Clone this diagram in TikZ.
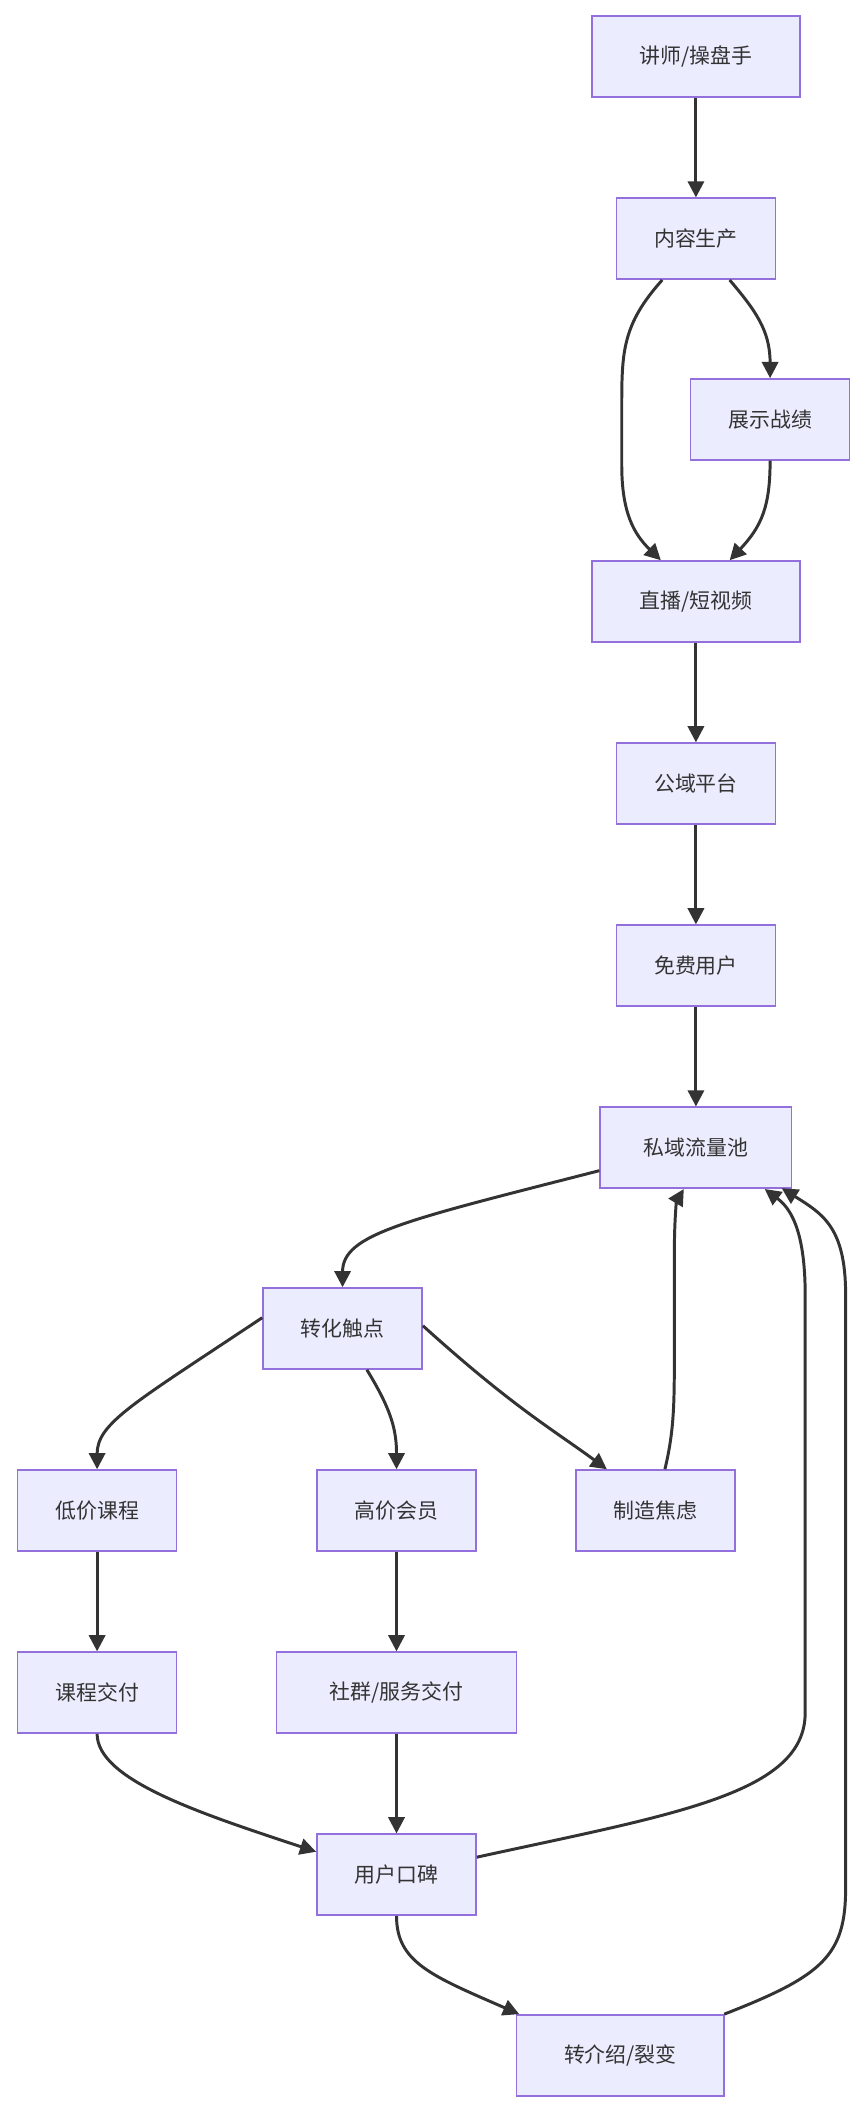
\documentclass[tikz,border=0pt]{standalone}
\usepackage{fontspec}
\setmainfont{Noto Sans CJK SC}
\usetikzlibrary{arrows.meta,calc}
\definecolor{nfill}{HTML}{ECECFF}
\definecolor{nline}{HTML}{9370DB}
\definecolor{eline}{HTML}{333333}
\begin{document}
\begin{tikzpicture}[x=1pt,y=-1pt,
  box/.style={draw=nline,fill=nfill,line width=1.2pt,minimum height=60pt,inner sep=0pt,font=\fontsize{15.5}{18}\selectfont,text=eline},
  e/.style={draw=eline,line width=2.2pt,-{Triangle[length=12pt,width=12pt]}}]
\useasboundingbox (0,0) rectangle (640,1563);
\fill[white] (0,0) rectangle (640,1563);
\node[box,minimum width=154pt] (a) at (516,42) {讲师/操盘手};
\node[box,minimum width=118pt] (b) at (516,177) {内容生产};
\node[box,minimum width=118pt] (c) at (571,311) {展示战绩};
\node[box,minimum width=154pt] (d) at (516,446) {直播/短视频};
\node[box,minimum width=118pt] (f) at (516,581) {公域平台};
\node[box,minimum width=118pt] (g) at (516,716) {免费用户};
\node[box,minimum width=142pt] (h) at (516,851) {私域流量池};
\node[box,minimum width=118pt] (i) at (254,985) {转化触点};
\node[box,minimum width=118pt] (j) at (72,1120) {低价课程};
\node[box,minimum width=118pt] (k) at (294,1120) {高价会员};
\node[box,minimum width=118pt] (l) at (486,1120) {制造焦虑};
\node[box,minimum width=118pt] (m) at (72,1255) {课程交付};
\node[box,minimum width=178pt] (n) at (294,1255) {社群/服务交付};
\node[box,minimum width=118pt] (o) at (294,1390) {用户口碑};
\node[box,minimum width=154pt] (p) at (460,1524) {转介绍/裂变};
\draw[e] (a) -- (b);
\draw[e] ($(b.south)+(-25,0)$) .. controls (462,240) and (461,260) .. (461,300) -- (461,345) .. controls (461,380) and (470,396) .. ($(d.north)+(-26,0)$);
\draw[e] ($(b.south)+(25,0)$) .. controls (560,230) and (571,245) .. (c.north);
\draw[e] (c.south) .. controls (571,375) and (565,390) .. ($(d.north)+(25,0)$);
\draw[e] (d) -- (f);
\draw[e] (f) -- (g);
\draw[e] (g) -- (h);
\draw[e] ($(h.west)+(0,17)$) .. controls (300,905) and (254,915) .. (i.north);
\draw[e] ($(i.west)+(0,-8)$) .. controls (100,1040) and (72,1055) .. (j.north);
\draw[e] ($(i.south)+(18,0)$) .. controls (290,1045) and (294,1060) .. (k.north);
\draw[e] ($(i.east)+(0,-2)$) .. controls (380,1043) and (410,1060) .. ($(l.north)+(-36,0)$);
\draw[e] ($(l.north)+(7,0)$) .. controls (500,1060) and (500,1040) .. (500,1000) -- (500,930) .. controls (500,900) and (502,890) .. ($(h.south)+(-9,0)$);
\draw[e] (j) -- (m);
\draw[e] (k) -- (n);
\draw[e] (n) -- (o);
\draw[e] (m.south) .. controls (72,1320) and (150,1345) .. ($(o.west)+(0,-17)$);
\draw[e] ($(o.east)+(0,-13)$) .. controls (500,1345) and (597,1330) .. (597,1270) -- (597,960) .. controls (597,910) and (585,895) .. ($(h.south)+(51,0)$);
\draw[e] (o.south) .. controls (294,1455) and (320,1465) .. ($(p.north)+(-75,0)$);
\draw[e] ($(p.north)+(77,0)$) .. controls (610,1465) and (627,1450) .. (627,1400) -- (627,960) .. controls (627,910) and (610,900) .. ($(h.east)+(-8,30)$);
\end{tikzpicture}
\end{document}
